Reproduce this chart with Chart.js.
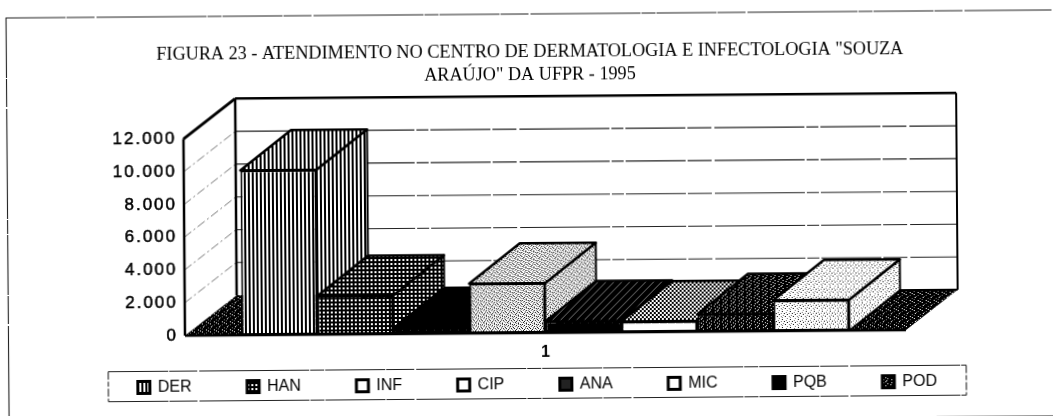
<!DOCTYPE html>
<html lang="pt-BR">
<head>
<meta charset="utf-8">
<script src="https://cdn.jsdelivr.net/npm/chart.js@4"></script>
<style>
html,body{margin:0;padding:0;background:#fff;width:1053px;height:416px;overflow:hidden}
canvas{display:block;transform-origin:526.5px 208px;transform:rotate(-0.44deg);filter:blur(0.35px)}
</style>
</head>
<body>
<canvas id="c" width="1053" height="430"></canvas>
<script>
const titleLines = ['FIGURA 23 - ATENDIMENTO NO CENTRO DE DERMATOLOGIA E INFECTOLOGIA "SOUZA', 'ARAÚJO" DA UFPR - 1995'];
const categories = ['1'];
const seriesNames = ['DER', 'HAN', 'INF', 'CIP', 'ANA', 'MIC', 'PQB', 'POD'];
const seriesValues = [10050, 2350, 350, 3030, 700, 650, 1070, 1870];

const tile = rows => {
  const c = document.createElement('canvas');
  c.width = rows[0].length; c.height = rows.length;
  const x = c.getContext('2d');
  rows.forEach((r, j) => [...r].forEach((ch, i) => {
    x.fillStyle = ch === '#' ? '#000' : ch === '+' ? '#777' : '#fff';
    x.fillRect(i, j, 1, 1);
  }));
  return x.createPattern(c, 'repeat');
};
const stripes = tile(['##..']);
const dots = tile(['####', '####', '##..', '##..']);
const lightStipple = tile(['..+.....', '.....#..', '.+......', '....+..#', '..#.....', '......+.', '#...+...', '.....+..']);
const denseStipple = tile(['.#..+.#.', '...#...+', '+.#..+..', '...+.#..', '.#...+.#', '+..#....', '..+..#.+', '#...+...']);
const darkStipple = tile(['####.###', '##.#####', '######.#', '#.######', '####.###', '######.#', '##.#####', '#####.##']);
const floorStipple = tile(['#######.', '#.######', '#####+##', '###+####', '##.#####', '#######+', '#+######', '#####.##']);
const hatch = tile(['#######+', '######+#', '#####+##', '####+###', '###+####', '##+#####', '#+######', '+#######']);
const diamonds = tile(['#..#', '.##.', '.##.', '#..#']);

const frontFills = [stripes, dots, '#000', denseStipple, '#000', '#fff', darkStipple, lightStipple];
const depthFills = [stripes, dots, '#000', denseStipple, hatch, diamonds, darkStipple, lightStipple];
const swatchFills = [stripes, dots, '#fff', '#fff', '#222', '#fff', '#000', darkStipple];

const depthX = 52, depthY = 40;

function poly(ctx, pts, fill, stroke, lw) {
  ctx.beginPath();
  pts.forEach((p, i) => i ? ctx.lineTo(p[0], p[1]) : ctx.moveTo(p[0], p[1]));
  ctx.closePath();
  if (fill) { ctx.fillStyle = fill; ctx.fill(); }
  if (stroke) { ctx.strokeStyle = stroke; ctx.lineWidth = lw; ctx.lineJoin = 'round'; ctx.stroke(); }
}
function line(ctx, a, b, w, color, dash) {
  ctx.save();
  ctx.beginPath(); ctx.moveTo(a[0], a[1]); ctx.lineTo(b[0], b[1]);
  ctx.lineWidth = w; ctx.strokeStyle = color; ctx.setLineDash(dash || []);
  ctx.stroke(); ctx.restore();
}

const scene3d = {
  id: 'scene3d',
  beforeLayout(chart) {
    const l = chart.legend;
    if (!l._fitPatched) {
      const f = l.fit.bind(l);
      l.fit = () => { l.maxWidth = 1053; f(); l.height = 30; };
      l._fitPatched = true;
    }
  },
  afterLayout(chart) {
    const t = chart.titleBlock;
    t.left = 0; t.right = 1062;
    const l = chart.legend;
    l.left = 81; l.right = 1040; l.top = 321; l.bottom = 410;
    const s = chart.scales.y;
    if (!s._spaced) {
      const o = s.drawLabels.bind(s);
      s.drawLabels = a => { chart.ctx.save(); chart.ctx.letterSpacing = '2px'; o(a); chart.ctx.restore(); };
      s._spaced = true;
    }
  },
  beforeDatasetsDraw(chart) {
    const ctx = chart.ctx, a = chart.chartArea, y = chart.scales.y;
    const L = a.left, R = a.right, T = a.top, B = a.bottom, dx = depthX, dy = depthY;
    ctx.save();
    poly(ctx, [[L + dx, T - dy], [R + dx, T - dy], [R + dx, B - dy], [L + dx, B - dy]], '#fff');
    poly(ctx, [[L, T], [L + dx, T - dy], [L + dx, B - dy], [L, B]], '#fff');
    y.ticks.forEach(t => {
      if (t.value === 0 || t.value === y.max) return;
      const p = y.getPixelForValue(t.value);
      line(ctx, [L + dx, p - dy], [R + dx, p - dy], 1.1, '#222', [60, 2, 24, 3, 90, 2, 12, 2]);
      line(ctx, [L, p], [L + dx, p - dy], 0.8, '#555', [9, 3, 2, 3]);
    });
    poly(ctx, [[L, B], [L + dx, B - dy], [R + dx, B - dy], [R, B]], floorStipple);
    line(ctx, [L + dx, T - dy], [R + dx, T - dy], 2.5, '#000');
    line(ctx, [L, T], [L + dx, T - dy], 3, '#000');
    line(ctx, [L, T], [L, B], 2.5, '#000');
    line(ctx, [L + dx, T - dy], [L + dx, B - dy], 2.5, '#000');
    line(ctx, [R + dx, T - dy], [R + dx, B - dy], 2, '#000');
    line(ctx, [R + dx, B - dy], [R - 6, B - dy], 2, '#000');
    line(ctx, [L, B], [R, B], 2.5, '#000');
    chart.data.datasets.forEach((ds, i) => {
      const el = chart.getDatasetMeta(i).data[0];
      const l = el.x - el.width / 2, r = el.x + el.width / 2, t = el.y, b = el.base;
      poly(ctx, [[r, t], [r + dx - 1, t - dy], [r + dx - 1, b - dy], [r, b]], depthFills[i], '#000', 2);
      poly(ctx, [[l, t], [l + dx - 1, t - dy], [r + dx - 1, t - dy], [r, t]], depthFills[i], '#000', 2.5);
    });
    ctx.restore();
  },
  afterDraw(chart) {
    const ctx = chart.ctx;
    ctx.save();
    const d = [60, 1, 28, 2, 110, 1, 14, 1];
    line(ctx, [7, 14], [1053, 14], 1.1, '#222', d);
    line(ctx, [7.5, 14], [7.5, 416], 1.1, '#222', d);
    line(ctx, [935, 420], [1053, 420], 1.2, '#222');
    const lx = 107, rx = 965, ty = 368.5, by = 398.5;
    line(ctx, [lx, ty], [rx, ty], 1.1, '#222', d);
    line(ctx, [lx, by], [rx, by], 1.1, '#222', d);
    line(ctx, [lx, ty], [lx, by], 1.1, '#222', [8, 2, 5, 2]);
    line(ctx, [rx, ty], [rx, by], 1.1, '#222', [8, 2, 5, 2]);
    ctx.restore();
  }
};

new Chart(document.getElementById('c'), {
  type: 'bar',
  plugins: [scene3d],
  data: {
    labels: categories,
    datasets: seriesNames.map((n, i) => ({
      label: n,
      data: [seriesValues[i]],
      backgroundColor: frontFills[i],
      borderColor: '#000',
      borderWidth: 2,
      borderSkipped: false,
      barPercentage: 1,
      categoryPercentage: 0.843
    }))
  },
  options: {
    responsive: false,
    animation: false,
    events: [],
    layout: { padding: { left: 11, right: 148, top: 0, bottom: 31 } },
    plugins: {
      tooltip: { enabled: false },
      title: {
        display: true,
        text: titleLines,
        color: '#000',
        font: { family: '"Liberation Serif", serif', size: 18.2, weight: 'normal', lineHeight: 1.26 },
        padding: { top: 41, bottom: 49.5 }
      },
      legend: {
        display: true,
        position: 'bottom',
        align: 'start',
        labels: {
          color: '#000',
          font: { family: '"Liberation Sans", sans-serif', size: 16 },
          boxWidth: 12,
          boxHeight: 12,
          padding: 55.5,
          generateLabels: c => c.data.datasets.map((ds, i) => ({
            text: ds.label,
            datasetIndex: i,
            fillStyle: swatchFills[i],
            strokeStyle: '#000',
            lineWidth: 3,
            fontColor: '#000'
          }))
        }
      }
    },
    scales: {
      x: {
        grid: { display: false, drawTicks: false },
        border: { display: false },
        afterFit: s => { s.height = 36; },
        ticks: { color: '#000', padding: 10, font: { family: '"Liberation Sans", sans-serif', size: 16, weight: 'bold' } }
      },
      y: {
        min: 0,
        max: 12000,
        grid: { display: false, drawTicks: false },
        border: { display: false },
        afterFit: s => { s.width = 173; },
        ticks: {
          stepSize: 2000,
          color: '#000',
          padding: 7,
          textStrokeColor: '#000',
          textStrokeWidth: 0.5,
          font: { family: '"Liberation Sans", sans-serif', size: 17 },
          callback: v => String(v).replace(/\B(?=(\d{3})+$)/g, '.')
        }
      }
    }
  }
});
</script>
</body>
</html>
